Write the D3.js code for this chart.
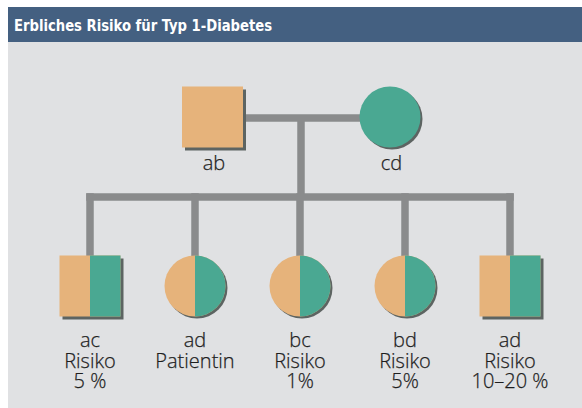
<!DOCTYPE html>
<html>
  <head>
    <meta charset="utf-8">
    <style>
      body { margin: 0; background: #fff; }
      .lbl { font-family: "Open Sans", "Liberation Sans", Arial, sans-serif; font-weight: 300; font-size: 20px; fill: #1e1e1e; stroke: #1e1e1e; stroke-width: 0.25px; }
      .title { font-family: "Liberation Sans Narrow", "DejaVu Sans Condensed", "Liberation Sans", sans-serif; font-weight: bold; font-size: 16px; fill: #fff; }
    </style>
  </head>
  <body>
    <script src="https://d3js.org/d3.v7.min.js"></script>
    <script>
    var width = 582, height = 408;

    var title = "Erbliches Risiko für Typ 1-Diabetes";

    // parents: name, sex, genotype colour
    var parentNames = ["ab", "cd"];
    var parentShapes = ["square", "circle"];
    var parentFill = ["a", "c"];
    var parentX = [212.5, 390];

    // children
    var childShapes = ["square", "circle", "circle", "circle", "square"];
    var childGenes = ["ac", "ad", "bc", "bd", "ad"];
    var childLine2 = ["Risiko", "Patientin", "Risiko", "Risiko", "Risiko"];
    var childLine3 = ["5 %", "", "1%", "5%", "10–20 %"];

    var orange = "#e6b37b", teal = "#4aa892", lineCol = "#8a8b8c", shadow = "#5d6462";
    var size = 61, r = 30.5;

    var svg = d3.select("body").append("svg")
        .attr("width", width)
        .attr("height", height);

    svg.append("rect").attr("x", 8).attr("y", 42).attr("width", width - 8).attr("height", height - 42).attr("fill", "#e0e1e3");
    svg.append("rect").attr("x", 8).attr("y", 7).attr("width", width - 8).attr("height", 35).attr("fill", "#446081");
    svg.append("text").attr("class", "title").attr("x", 14).attr("y", 31)
        .attr("textLength", 258).attr("lengthAdjust", "spacingAndGlyphs").text(title);

    var genY = d3.scalePoint().domain(["parents", "children"]).range([117, 286]);
    var childX = d3.scalePoint().domain(d3.range(childGenes.length)).range([90, 510]);

    var parentLineY = 118, childLineY = 197, dropX = 301;

    // lines
    var g = svg.append("g").attr("stroke", lineCol).attr("stroke-width", 7.5).attr("fill", "none");
    g.append("line").attr("x1", parentX[0]).attr("x2", parentX[1]).attr("y1", parentLineY).attr("y2", parentLineY);
    g.append("line").attr("x1", dropX).attr("x2", dropX).attr("y1", parentLineY).attr("y2", childLineY);
    g.append("line").attr("x1", childX(0) - 3.75).attr("x2", childX(childGenes.length - 1) + 3.75)
        .attr("y1", childLineY).attr("y2", childLineY);
    g.selectAll(".stub").data(d3.range(childGenes.length)).enter().append("line")
        .attr("x1", function(i) { return childX(i); })
        .attr("x2", function(i) { return childX(i); })
        .attr("y1", childLineY - 3.75)
        .attr("y2", genY("children"));

    function drawNode(cx, cy, shape, leftCol, rightCol) {
      var n = svg.append("g").attr("transform", "translate(" + cx + "," + cy + ")");
      if (shape == "square") {
        n.append("rect").attr("x", -size / 2 + 3).attr("y", -size / 2 + 3).attr("width", size).attr("height", size).attr("fill", shadow);
        n.append("rect").attr("x", -size / 2).attr("y", -size / 2).attr("width", size).attr("height", size).attr("fill", leftCol);
        if (rightCol != leftCol)
          n.append("rect").attr("x", 0).attr("y", -size / 2).attr("width", size / 2).attr("height", size).attr("fill", rightCol);
      } else {
        n.append("circle").attr("cx", 2).attr("cy", 2).attr("r", r).attr("fill", shadow);
        n.append("circle").attr("r", r).attr("fill", leftCol);
        if (rightCol != leftCol) {
          var arc = d3.arc().innerRadius(0).outerRadius(r);
          n.append("path").attr("d", arc({startAngle: 0, endAngle: Math.PI})).attr("fill", rightCol);
        }
      }
    }

    var geneColour = function(a) { return (a == "a" || a == "b") ? orange : teal; };

    parentNames.forEach(function(p, i) {
      var c = geneColour(parentFill[i]);
      drawNode(parentX[i], genY("parents"), parentShapes[i], c, c);
      svg.append("text").attr("class", "lbl").attr("text-anchor", "middle")
          .attr("x", parentX[i] + 1.5).attr("y", 170).text(p);
    });

    childGenes.forEach(function(gn, i) {
      drawNode(childX(i), genY("children"), childShapes[i], geneColour(gn[0]), geneColour(gn[1]));
      var t = svg.append("text").attr("class", "lbl").attr("text-anchor", "middle");
      [gn, childLine2[i], childLine3[i]].forEach(function(s, k) {
        t.append("tspan").attr("x", childX(i)).attr("y", 347 + k * 20.5).text(s);
      });
    });
    </script>
  </body>
</html>
